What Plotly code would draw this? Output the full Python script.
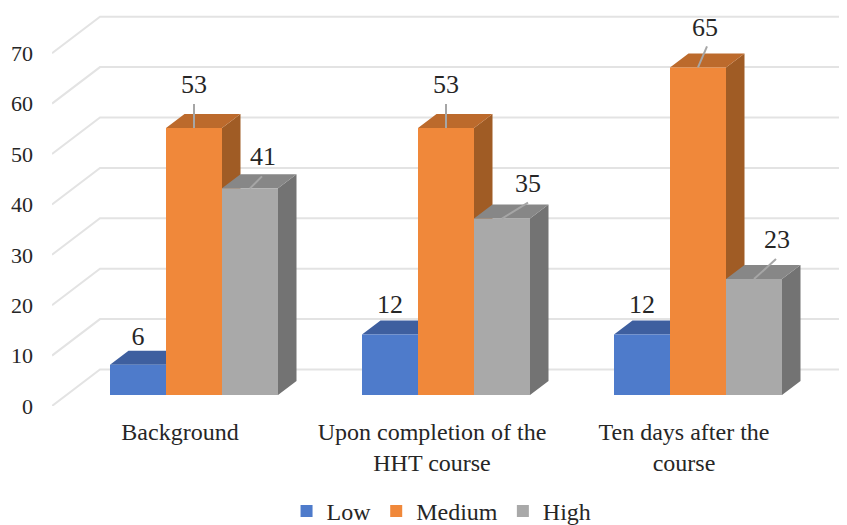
import plotly.graph_objects as go

categories = ["Background", "Upon completion of the<br>HHT course", "Ten days after the<br>course"]
low = [6, 12, 12]
medium = [53, 53, 65]
high = [41, 35, 23]
y_ticks = [0, 10, 20, 30, 40, 50, 60, 70]

# pixel scale of the chart, used only to express the 3D projection in data units
PAGE = 8  # page margin around the figure
FIG_W, FIG_H = 847 - PAGE, 525 - PAGE
PX_X, PX_Y = 252.0, 5.04
PLOT_L, PLOT_R, PLOT_B = 52, 847, 406
GROUP0 = 194
BAR_W = 56 / PX_X
FLOOR = 11 / PX_Y
DX, DY = 18.5 / PX_X, 14 / PX_Y
WALL_DX, WALL_DY = 48 / PX_X, 36.5 / PX_Y
x0 = (PLOT_L - GROUP0) / PX_X
x1 = (PLOT_R - GROUP0) / PX_X

series = [
    ("Low", low, -1, "#4E7BCB", "#3E5F9F", "#34517F"),
    ("Medium", medium, 0, "#F0883A", "#BC6A2C", "#A05C25"),
    ("High", high, 1, "#A9A9A9", "#878787", "#737373"),
]
# label displacement from the front-top-centre of each bar, in px (dx, dy, leader dx, leader dy)
label_off = {
    "Low": [(0, 26, 0, 0), (0, 28, 0, 0), (0, 28, 0, 0)],
    "Medium": [(0, 41, 0, 24), (0, 41, 0, 24), (7, 38, 9, 21)],
    "High": [(13, 30, 12, 12), (26, 33, 26, 16), (23, 38, 22, 20)],
}
FONT = "Liberation Serif"
TXT = "#262626"

fig = go.Figure()

# walls
gx, gy = [], []
for t in y_ticks:
    gx += [x0, x0 + WALL_DX, x1, None]
    gy += [t, t + WALL_DY, t + WALL_DY, None]
fig.add_trace(go.Scatter(x=gx, y=gy, mode="lines", line=dict(color="#E3E3E3", width=2),
                         showlegend=False, hoverinfo="skip"))

# top and side faces
for name, vals, k, front, top, side in series:
    tx, ty, sx, sy = [], [], [], []
    for i, v in enumerate(vals):
        l = i + (k - 0.5) * BAR_W
        r = l + BAR_W
        h = v + FLOOR
        tx += [l, r, r + DX, l + DX, l, None]
        ty += [h, h, h + DY, h + DY, h, None]
        sx += [r, r + DX, r + DX, r, r, None]
        sy += [FLOOR, FLOOR + DY, h + DY, h, FLOOR, None]
    for xs, ys, col in ((sx, sy, side), (tx, ty, top)):
        fig.add_trace(go.Scatter(x=xs, y=ys, mode="lines", fill="toself", fillcolor=col,
                                 line=dict(width=0, color=col), showlegend=False,
                                 hoverinfo="skip"))

# front faces
for name, vals, k, front, top, side in series:
    fig.add_trace(go.Bar(x=list(range(len(categories))), y=vals, base=FLOOR, name=name,
                         marker=dict(color=front, line=dict(width=0)),
                         xaxis="x2", yaxis="y2"))

# data labels with leader lines
for name, vals, k, front, top, side in series:
    lx, ly, px, py, txt = [], [], [], [], []
    for i, v in enumerate(vals):
        cx = i + k * BAR_W
        h = v + FLOOR
        ox, oy, lox, loy = label_off[name][i]
        px.append(cx + ox / PX_X)
        py.append(h + oy / PX_Y)
        txt.append(str(v))
        if loy:
            lx += [cx, cx + lox / PX_X, None]
            ly += [h, h + loy / PX_Y, None]
    if lx:
        fig.add_trace(go.Scatter(x=lx, y=ly, mode="lines", line=dict(color="#A6A6A6", width=2),
                                 showlegend=False, hoverinfo="skip", xaxis="x2", yaxis="y2"))
    fig.add_trace(go.Scatter(x=px, y=py, mode="text", text=txt, textposition="middle center",
                             textfont=dict(family=FONT, size=26, color=TXT),
                             showlegend=False, hoverinfo="skip", xaxis="x2", yaxis="y2"))

xr = [x0, x1]
yr = [0, (PLOT_B - PAGE) / PX_Y]
plot_h = PLOT_B - PAGE
fig.update_layout(
    width=FIG_W, height=FIG_H, autosize=False,
    margin=dict(l=PLOT_L - PAGE, r=0, t=0, b=FIG_H - plot_h, autoexpand=False),
    paper_bgcolor="white", plot_bgcolor="white",
    barmode="group", bargap=1 - 3 * BAR_W, bargroupgap=0,
    font=dict(family=FONT, color=TXT, size=23),
    xaxis=dict(range=xr, tickmode="array", tickvals=[i - 14 / PX_X for i in range(3)],
               ticktext=categories, showgrid=False, zeroline=False, showline=False,
               ticks="", ticklabelstandoff=9, tickangle=0, tickfont=dict(family=FONT, size=24, color=TXT)),
    yaxis=dict(range=yr, tickmode="array", tickvals=y_ticks, showgrid=False, zeroline=False,
               showline=False, ticks="", ticklabelstandoff=18, tickfont=dict(family=FONT, size=22, color=TXT)),
    xaxis2=dict(range=xr, overlaying="x", anchor="y2", visible=False),
    yaxis2=dict(range=yr, overlaying="y", anchor="x2", visible=False),
    legend=dict(orientation="h", x=0.49, xanchor="center", xref="paper", y=-0.2085, yanchor="top",
                font=dict(family=FONT, size=24, color=TXT), bgcolor="rgba(0,0,0,0)"),
)
fig.write_html("out.html")
